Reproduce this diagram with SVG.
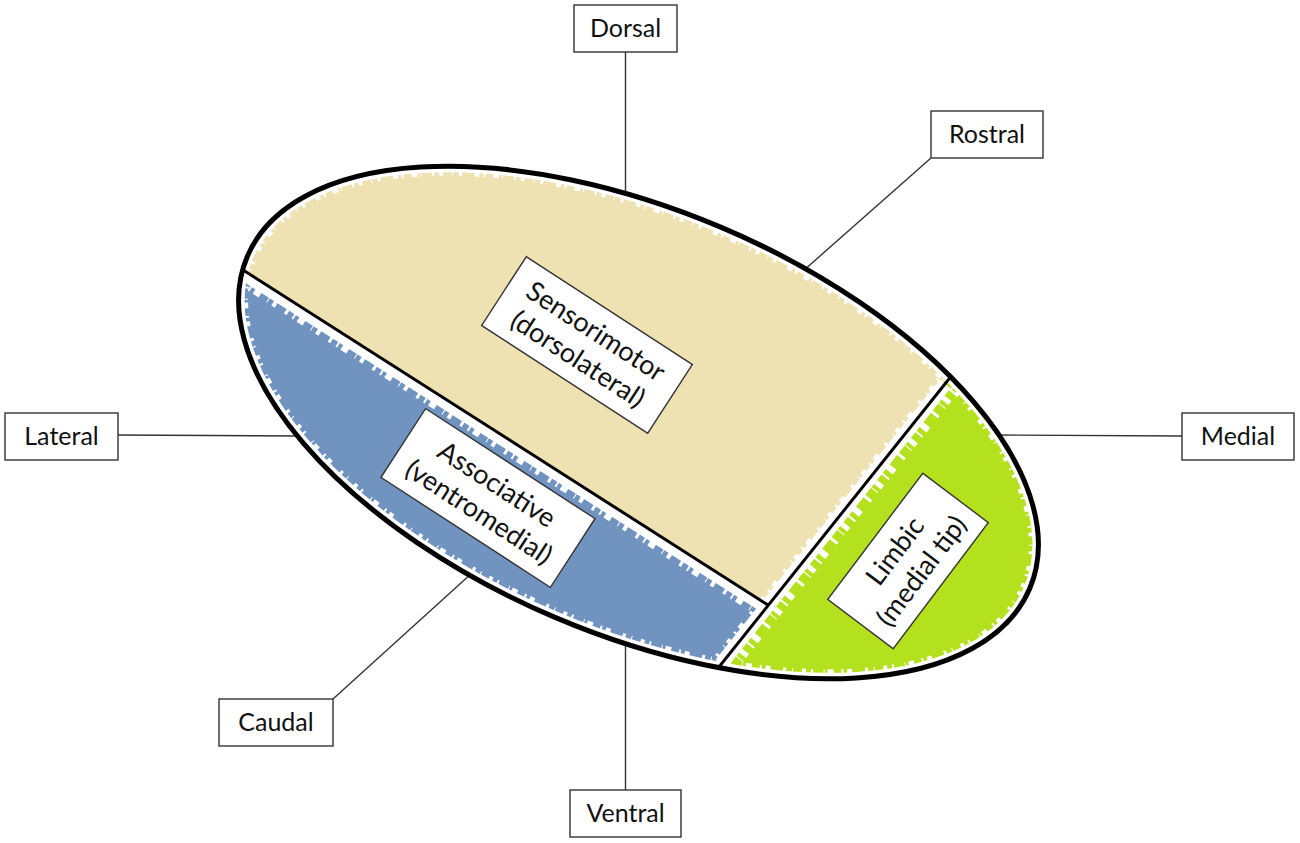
<svg xmlns="http://www.w3.org/2000/svg" width="1300" height="843" viewBox="0 0 1300 843">
<style>
.lbl{fill:#fff;stroke:#333;stroke-width:1.4}
.t{font-family:Lato,"Liberation Sans",sans-serif;font-size:25px;fill:#111;text-anchor:middle}
.ti{font-family:Lato,"Liberation Sans",sans-serif;font-size:27px;fill:#111;text-anchor:middle}
.conn{stroke:#333;stroke-width:1.4;fill:none}
.wj{fill:none;stroke:#fff}
</style>
<defs>
<clipPath id="clipE"><ellipse cx="638.5" cy="422.5" rx="425" ry="212" transform="rotate(23 638.5 422.5)"/></clipPath>
</defs>
<rect width="1300" height="843" fill="#fff"/>

<g id="connectors">
<line class="conn" x1="625.5" y1="52" x2="625.5" y2="197"/>
<line class="conn" x1="931" y1="158" x2="803" y2="271"/>
<line class="conn" x1="998" y1="435" x2="1182" y2="436"/>
<line class="conn" x1="118" y1="435" x2="301" y2="436"/>
<line class="conn" x1="333" y1="699" x2="472" y2="573"/>
<line class="conn" x1="625.5" y1="641" x2="625.5" y2="790"/>
</g>

<g id="body">
<g clip-path="url(#clipE)">
<polygon id="sensorimotor-region" points="150,211 768,605 1012,300 1012,100 150,100" fill="#EEE2B3"/>
<polygon id="associative-region" points="150,211 768,605 699,692 150,692" fill="#7093C0"/>
<polygon id="limbic-region" points="1012,300 699,692 1100,692 1100,300" fill="#B4E11E"/>
<ellipse class="wj" cx="638.5" cy="422.5" rx="425" ry="212" transform="rotate(23 638.5 422.5)" stroke-width="12"/>
<ellipse class="wj" cx="638.5" cy="422.5" rx="425" ry="212" transform="rotate(23 638.5 422.5)" stroke-width="19" stroke-dasharray="2 5 4 9 1 6 3 13 5 4 2 8 6 3 1 11"/>
<line class="wj" x1="243" y1="276" x2="768" y2="611" stroke-width="9"/>
<line class="wj" x1="243" y1="281" x2="768" y2="616" stroke-width="11" stroke-dasharray="3 6 2 4 7 9 1 5 4 11"/>
<line class="wj" x1="945" y1="384" x2="721" y2="664" stroke-width="14"/>
<line class="wj" x1="947" y1="386" x2="723" y2="666" stroke-width="26" stroke-dasharray="2 7 5 4 1 9 3 12 6 5"/>
<line x1="200" y1="242.5" x2="768" y2="605" stroke="#000" stroke-width="3"/>
<line x1="1012" y1="300" x2="699" y2="692" stroke="#000" stroke-width="3"/>
</g>
<ellipse cx="638.5" cy="422.5" rx="425" ry="212" transform="rotate(23 638.5 422.5)" fill="none" stroke="#000" stroke-width="5"/>
</g>

<g id="sensorimotor" transform="translate(587,345) rotate(33)">
<rect class="lbl" x="-99" y="-41" width="198" height="82"/>
<text class="ti" y="-7">Sensorimotor</text>
<text class="ti" y="26">(dorsolateral)</text>
</g>
<g id="associative" transform="translate(488,498) rotate(33)">
<rect class="lbl" x="-101" y="-41" width="202" height="82"/>
<text class="ti" y="-7">Associative</text>
<text class="ti" y="26">(ventromedial)</text>
</g>
<g id="limbic" transform="translate(908,561) rotate(-53)">
<rect class="lbl" x="-79" y="-41" width="158" height="82"/>
<text class="ti" y="-7">Limbic</text>
<text class="ti" y="26">(medial tip)</text>
</g>

<g id="dorsal"><rect class="lbl" x="574" y="5" width="103" height="47"/><text class="t" x="625.5" y="37">Dorsal</text></g>
<g id="rostral"><rect class="lbl" x="931" y="111" width="112" height="47"/><text class="t" x="987" y="143">Rostral</text></g>
<g id="lateral"><rect class="lbl" x="5" y="413" width="113" height="47"/><text class="t" x="61.5" y="445">Lateral</text></g>
<g id="medial"><rect class="lbl" x="1182" y="413" width="112" height="47"/><text class="t" x="1238" y="445">Medial</text></g>
<g id="caudal"><rect class="lbl" x="219" y="699" width="114" height="47"/><text class="t" x="276" y="731">Caudal</text></g>
<g id="ventral"><rect class="lbl" x="570" y="790" width="111" height="47"/><text class="t" x="625.5" y="822">Ventral</text></g>
</svg>
